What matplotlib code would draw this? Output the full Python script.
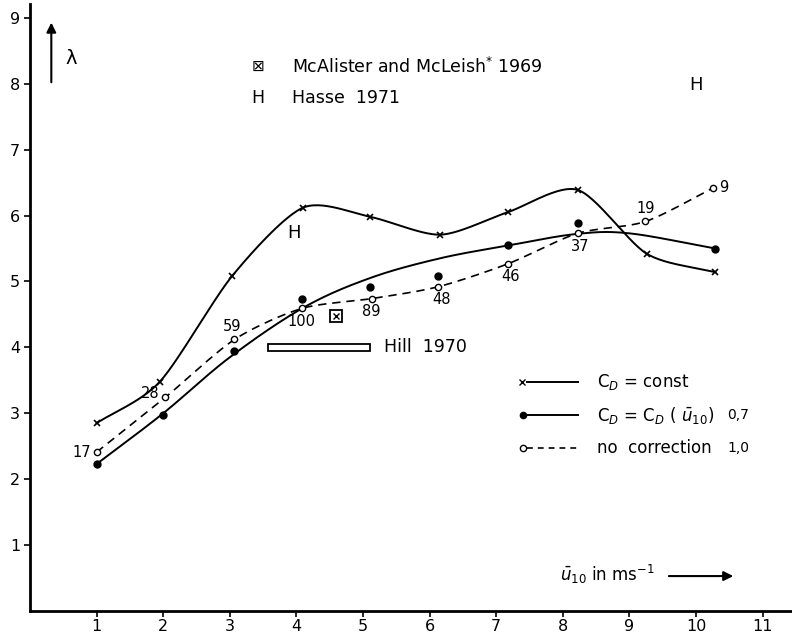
import matplotlib
matplotlib.use('Agg')
import matplotlib.pyplot as plt
import numpy as np

# wind speed classes and lambda values
u_const = [1.0, 1.95, 3.04, 4.10, 5.11, 6.16, 7.17, 8.22, 9.26, 10.29]
lam_const = [2.85, 3.48, 5.09, 6.12, 5.98, 5.71, 6.05, 6.39, 5.42, 5.14]

u_cd = [1.0, 2.0, 3.06, 4.09, 5.11, 6.13, 7.18, 8.22, 10.29]
lam_cd = [2.23, 2.97, 3.94, 4.73, 4.92, 5.08, 5.55, 5.88, 5.50]
# smooth fitted curve for C_D(u10) (does not pass through the dots)
u_cdfit = [1.0, 2.0, 3.0, 4.1, 5.1, 6.15, 7.2, 8.2, 9.0, 10.29]
lam_cdfit = [2.23, 3.0, 3.85, 4.6, 5.05, 5.35, 5.55, 5.72, 5.73, 5.5]

u_nc = [1.0, 2.03, 3.07, 4.08, 5.13, 6.13, 7.18, 8.22, 9.24, 10.26]
lam_nc = [2.41, 3.24, 4.12, 4.59, 4.74, 4.92, 5.27, 5.73, 5.91, 6.42]
n_nc = ['17', '28', '59', '100', '89', '48', '46', '37', '19', '9']

mcal_u, mcal_lam = 4.59, 4.47
hasse_u = [3.97, 10.0]
hasse_lam = [5.73, 7.98]
hill_u = [3.57, 5.10]
hill_lam = 4.0


def smooth(x, y, n=30, tens=0.5):
    # catmull-rom style curve through the given knots, for drawing only
    x = np.asarray(x, float)
    y = np.asarray(y, float)
    px = np.concatenate([[2*x[0]-x[1]], x, [2*x[-1]-x[-2]]])
    py = np.concatenate([[2*y[0]-y[1]], y, [2*y[-1]-y[-2]]])
    xs, ys = [], []
    t = np.linspace(0, 1, n)
    h00 = 2*t**3 - 3*t**2 + 1
    h10 = t**3 - 2*t**2 + t
    h01 = -2*t**3 + 3*t**2
    h11 = t**3 - t**2
    for i in range(1, len(px)-2):
        for p, out in ((px, xs), (py, ys)):
            m1 = tens*(p[i+1] - p[i-1])
            m2 = tens*(p[i+2] - p[i])
            out.extend(h00*p[i] + h10*m1 + h01*p[i+1] + h11*m2)
    return np.array(xs), np.array(ys)


plt.rcParams['font.family'] = ['DejaVu Sans']
fig = plt.figure(figsize=(7.92, 6.4), dpi=100)
ax = fig.add_axes([30/792, 29/640, 1-30/792, (611-4)/640])
ax.set_xlim(0, 11.44)
ax.set_ylim(0, 9.21)

for s in ['top', 'right']:
    ax.spines[s].set_visible(False)
for s in ['left', 'bottom']:
    ax.spines[s].set_linewidth(2)
ax.set_xticks(range(1, 12))
ax.set_yticks(range(1, 10))
ax.tick_params(axis='both', direction='out', length=4, width=1.2, labelsize=11.5)
ax.tick_params(axis='x', pad=2)
ax.tick_params(axis='y', pad=3)

k = 'black'
# C_D = const
sx, sy = smooth(u_const, lam_const, tens=0.4)
ax.plot(sx, sy, color=k, lw=1.4)
ax.plot(u_const, lam_const, 'x', color=k, ms=5, mew=1.2)

# C_D = C_D(u10)
sx, sy = smooth(u_cdfit, lam_cdfit)
ax.plot(sx, sy, color=k, lw=1.4)
ax.plot(u_cd, lam_cd, 'o', color=k, ms=5)

# no correction
sx, sy = smooth(u_nc, lam_nc, tens=0.4)
ax.plot(sx, sy, color=k, lw=1.2, ls=(0, (5, 3.5)))
ax.plot(u_nc, lam_nc, 'o', mfc='white', mec=k, ms=4.5, mew=1)

offs = {'17': (-4, 0, 'right', 'center'), '28': (-4, 3, 'right', 'center'),
        '59': (-2, 4, 'center', 'bottom'), '100': (0, -4, 'center', 'top'),
        '89': (0, -4, 'center', 'top'), '48': (2, -4, 'center', 'top'),
        '46': (2, -4, 'center', 'top'), '37': (2, -4, 'center', 'top'),
        '19': (0, 4, 'center', 'bottom'), '9': (4, 0, 'left', 'center')}
for u, l, n in zip(u_nc, lam_nc, n_nc):
    dx, dy, ha, va = offs[n]
    ax.annotate(n, (u, l), xytext=(dx, dy), textcoords='offset points',
                ha=ha, va=va, fontsize=10.5)

# other authors
ax.plot(mcal_u, mcal_lam, 's', mfc='white', mec=k, ms=8, mew=1.3)
ax.plot(mcal_u, mcal_lam, 'x', color=k, ms=5, mew=1)
for u, l in zip(hasse_u, hasse_lam):
    ax.text(u, l, 'H', ha='center', va='center', fontsize=13)
ax.add_patch(plt.Rectangle((hill_u[0], hill_lam - 0.05), hill_u[1] - hill_u[0], 0.1,
                           fc='white', ec=k, lw=1.3))
ax.text(5.32, hill_lam, 'Hill  1970', va='center', fontsize=12.5)

ax.text(3.42, 8.26, '\u22a0', ha='center', va='center', fontsize=11)
ax.text(3.94, 8.26, 'McAlister and McLeish$^{*}$ 1969', va='center', fontsize=12.5)
ax.text(3.42, 7.79, 'H', ha='center', va='center', fontsize=12.5)
ax.text(3.94, 7.79, 'Hasse  1971', va='center', fontsize=12.5)

# legend
rows = [(3.47, 'x', '-', 'C$_D$ = const', ''),
        (2.97, 'o', '-', 'C$_D$ = C$_D$ ( $\\bar{u}_{10}$)', '0,7'),
        (2.47, 'o', '--', 'no  correction', '1,0')]
for y, m, ls, lab, extra in rows:
    ax.plot([7.46, 8.22], [y, y], color=k, lw=1.4 if ls == '-' else 1.2,
            ls='-' if ls == '-' else (0, (3.5, 3)))
    if m == 'x':
        ax.plot(7.38, y, 'x', color=k, ms=4, mew=1)
    elif ls == '-':
        ax.plot(7.40, y, 'o', color=k, ms=4.5)
    else:
        ax.plot(7.40, y, 'o', mfc='white', mec=k, ms=4.5, mew=1)
    ax.text(8.51, y, lab, va='center', fontsize=12)
    if extra:
        ax.text(10.47, y, extra, va='center', fontsize=10)

# axis labels with arrows
ax.annotate('', xy=(0.32, 8.97), xytext=(0.32, 7.98),
            arrowprops=dict(arrowstyle='-|>', color=k, lw=1.5, mutation_scale=14))
ax.text(0.62, 8.38, '\u03bb', ha='center', va='center', fontsize=14)
ax.text(7.95, 0.55, '$\\bar{u}_{10}$ in ms$^{-1}$', va='center', fontsize=12)
ax.annotate('', xy=(10.6, 0.53), xytext=(9.55, 0.53),
            arrowprops=dict(arrowstyle='-|>', color=k, lw=1.5, mutation_scale=14))

fig.savefig('out.png', dpi=100)
